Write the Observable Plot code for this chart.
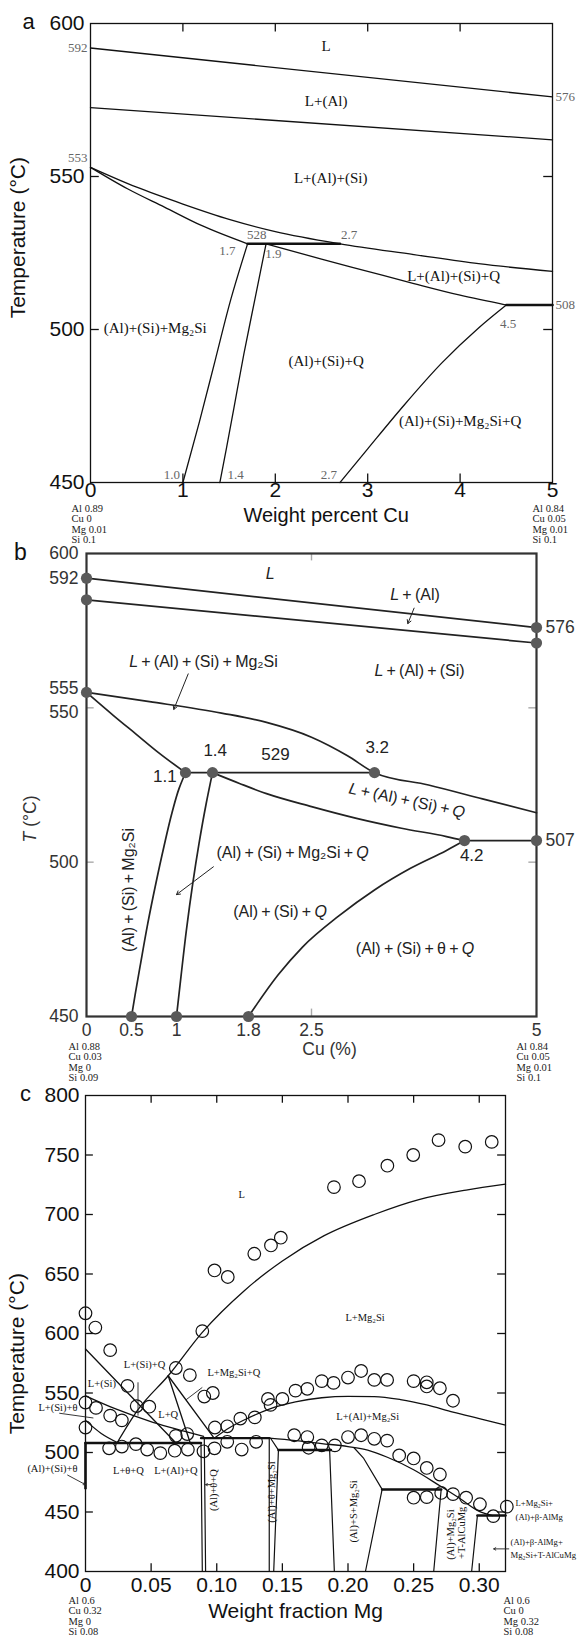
<!DOCTYPE html>
<html>
<head>
<meta charset="utf-8">
<script src="https://cdn.jsdelivr.net/npm/d3@7"></script>
<script src="https://cdn.jsdelivr.net/npm/@observablehq/plot@0.6"></script>
<style>
  body { margin: 0; background: #fff; }
  #wrap { width: 579px; }
  svg { display: block; overflow: visible; }
</style>
</head>
<body>
<div id="wrap"></div>
<script>
// ================= Panel a: temperature vs weight percent Cu =================
const aLiquidus = [[0, 592], [5, 576]];
const aAlSi = [[0, 572.5], [5, 562]];
const aUpper = [[0, 553], [0.5, 546.5], [1.0, 541], [1.5, 536], [2.0, 532], [2.7, 528], [3.5, 524.5], [4.2, 521.5], [5, 519]];
const aLower = [[0, 553], [0.4, 546], [0.8, 540], [1.2, 534], [1.7, 528]];
const aIso528 = [[1.7, 528], [2.7, 528]];
const aQline = [[1.9, 528], [2.5, 523], [3.0, 519], [3.5, 515], [4.0, 511.2], [4.5, 508]];
const aIso508 = [[4.5, 508], [5, 508]];
const aMg2Si1 = [[1.7, 528], [1.52, 510], [1.35, 490], [1.18, 470], [1.0, 450]];
const aMg2Si2 = [[1.9, 528], [1.78, 510], [1.66, 492], [1.55, 474], [1.47, 461], [1.4, 450]];
const aTheta = [[2.7, 450], [3.0, 461], [3.4, 475.5], [3.8, 489], [4.2, 500.5], [4.5, 508]];
const aTickLabelsX = [0, 1, 2, 3, 4, 5];
const aTickLabelsY = [450, 500, 550, 600];
const aPhase = [
  {x: 2.55, y: 592.5, t: "L"},
  {x: 2.55, y: 574.5, t: "L+(Al)"},
  {x: 2.6, y: 549.5, t: "L+(Al)+(Si)"},
  {x: 3.93, y: 517.3, t: "L+(Al)+(Si)+Q"},
  {x: 0.7, y: 500.5, t: "(Al)+(Si)+Mg\u2082Si"},
  {x: 2.55, y: 489.5, t: "(Al)+(Si)+Q"},
  {x: 4.0, y: 470, t: "(Al)+(Si)+Mg\u2082Si+Q"}
];
const aPointLeft = [{x: 0, y: 592, t: "592"}, {x: 0, y: 556, t: "553"}];
const aPointRight = [{x: 5, y: 576, t: "576"}, {x: 5, y: 508, t: "508"}];
const aPointMid = [
  {x: 1.8, y: 530.8, t: "528"},
  {x: 2.8, y: 530.8, t: "2.7"},
  {x: 1.48, y: 525.8, t: "1.7"},
  {x: 1.98, y: 524.6, t: "1.9"},
  {x: 4.52, y: 502, t: "4.5"},
  {x: 0.88, y: 452.4, t: "1.0"},
  {x: 1.57, y: 452.4, t: "1.4"},
  {x: 2.58, y: 452.4, t: "2.7"}
];
const aLeftComp = ["Al 0.89", "Cu 0", "Mg 0.01", "Si 0.1"];
const aRightComp = ["Al 0.84", "Cu 0.05", "Mg 0.01", "Si 0.1"];

// ================= Panel b: T vs Cu (%) =================
const bLiquidus = [[0, 592], [5, 576]];
const bAlSi = [[0, 585], [5, 571]];
const bUpper = [[0, 555], [0.7, 552], [1.5, 548.3], [2.0, 545.3], [2.5, 540.5], [2.9, 534.5], [3.2, 529], [3.8, 525], [4.4, 520.5], [5, 516]];
const bLower = [[0, 555], [0.3, 547.5], [0.55, 541.5], [0.8, 535.5], [1.1, 529]];
const bIso529 = [[1.1, 529], [3.2, 529]];
const bQline = [[1.4, 529], [1.7, 525.5], [2.0, 522.2], [2.5, 518], [3.0, 514.2], [3.5, 511], [4.0, 508.3], [4.2, 507]];
const bIso507 = [[4.2, 507], [5, 507]];
const bMg2Si1 = [[1.1, 529], [1.03, 524], [0.95, 516], [0.86, 505], [0.77, 493], [0.68, 480], [0.6, 467], [0.54, 457], [0.5, 450]];
const bMg2Si2 = [[1.4, 529], [1.33, 519], [1.25, 506], [1.18, 493], [1.11, 478], [1.05, 463], [1.0, 450]];
const bTheta = [[1.8, 450], [2.13, 463.5], [2.4, 472.5], [2.8, 482.5], [3.2, 491], [3.6, 498], [4.0, 503.8], [4.2, 507]];
const bDots = [[0, 592], [0, 585], [5, 576], [5, 571], [0, 555], [1.1, 529], [1.4, 529], [3.2, 529], [4.2, 507], [5, 507], [0.5, 450], [1, 450], [1.8, 450]];
const bTickLabelsX = [0, 0.5, 1, 1.8, 2.5, 5];
const bTickLabelsY = [450, 500, 592, 600];
const bTickLabelUpper = [555];
const bTickLabelLower = [550];
const bPhase = [
  {x: 2.04, y: 593.5, t: "L", r: 0},
  {x: 3.65, y: 586.5, t: "L+(Al)", r: 0},
  {x: 3.7, y: 562, t: "L+(Al)+(Si)", r: 0},
  {x: 1.3, y: 565, t: "L+(Al)+(Si)+Mg\u2082Si", r: 0},
  {x: 3.56, y: 520, t: "L+(Al)+(Si)+Q", r: 12},
  {x: 2.29, y: 503, t: "(Al)+(Si)+Mg\u2082Si+Q", r: 0},
  {x: 0.47, y: 491, t: "(Al)+(Si)+Mg\u2082Si", r: -90},
  {x: 2.15, y: 484, t: "(Al)+(Si)+Q", r: 0},
  {x: 3.65, y: 472, t: "(Al)+(Si)+\u03b8+Q", r: 0}
];
const bArrows = [
  {x1: 3.64, y1: 582.3, x2: 3.57, y2: 577.3},
  {x1: 1.13, y1: 561, x2: 0.97, y2: 549.5},
  {x1: 1.41, y1: 498.5, x2: 1.0, y2: 489.5}
];
const bPoint = [
  {x: 0.87, y: 527.8, t: "1.1"},
  {x: 1.43, y: 536, t: "1.4"},
  {x: 2.1, y: 535, t: "529"},
  {x: 3.23, y: 537, t: "3.2"},
  {x: 4.28, y: 502, t: "4.2"}
];
const bRightLabels = [576, 507];
const bLeftComp = ["Al 0.88", "Cu 0.03", "Mg 0", "Si 0.09"];
const bRightComp = ["Al 0.84", "Cu 0.05", "Mg 0.01", "Si 0.1"];

// ================= Panel c: temperature vs weight fraction Mg =================
const cLiquidus = [[0.024, 508], [0.04, 536], [0.063, 564.5], [0.089, 601], [0.121, 636], [0.15, 661], [0.1815, 682], [0.22, 700], [0.254, 712.5], [0.29, 720.5], [0.32, 725.5]];
const cDome = [[0.098, 512], [0.11, 521], [0.125, 529.5], [0.14, 536.5], [0.16, 542.5], [0.18, 546], [0.2, 547.2], [0.22, 547], [0.24, 544.5], [0.26, 540], [0.28, 534], [0.3, 528.5], [0.32, 523]];
const cSolvus = [[0.14, 512], [0.16, 510], [0.18, 507.5], [0.2, 505], [0.215, 502], [0.23, 496], [0.25, 485.5], [0.27, 472], [0.285, 461.5], [0.3, 450.5], [0.31, 447]];
const cSiLiq = [[0, 587], [0.068, 509]];
const cSiTheta = [[0, 547.6], [0.0225, 536.8], [0.0514, 525.4], [0.075, 518], [0.09, 513.5]];
const cSiTheta2 = [[0, 527], [0.012, 516], [0.025, 508]];
const cQa = [[0.063, 564.5], [0.0795, 509]];
const cQb = [[0.063, 564.5], [0.098, 512]];
const cIso508 = [[0, 508], [0.088, 508]];
const cIso512 = [[0.088, 512], [0.14, 512]];
const cIso502 = [[0.147, 502], [0.187, 502]];
const cIso469 = [[0.226, 469], [0.271, 469]];
const cIso447 = [[0.2986, 447], [0.32, 447]];
const cBounds = [
  [[0.088, 508], [0.089, 400]],
  [[0.0905, 512], [0.0915, 400]],
  [[0.14, 512], [0.14, 400]],
  [[0.141, 512], [0.147, 502], [0.1434, 400]],
  [[0.186, 502], [0.1896, 400]],
  [[0.2046, 504], [0.212, 495], [0.226, 469], [0.2133, 400]],
  [[0.271, 469], [0.2653, 400]],
  [[0.2986, 447], [0.2942, 400]]
];
const cLeftEdge = [[0, 508], [0, 470]];
const cExpX = [0, 0.0075, 0.0188, 0.032, 0, 0.008, 0.0188, 0.0277, 0, 0.018, 0.0277, 0.0384, 0.039, 0.0486, 0.047, 0.057, 0.068, 0.0688, 0.0688, 0.0775, 0.078, 0.0795, 0.0899, 0.0905, 0.097, 0.089, 0.0986, 0.0983, 0.108, 0.108, 0.119, 0.118, 0.129, 0.13, 0.139, 0.141, 0.15, 0.159, 0.16, 0.169, 0.169, 0.17, 0.18, 0.18, 0.189, 0.19, 0.2, 0.2, 0.21, 0.21, 0.22, 0.22, 0.2298, 0.2298, 0.239, 0.25, 0.25, 0.26, 0.26, 0.26, 0.27, 0.27, 0.28, 0.25, 0.26, 0.271, 0.28, 0.29, 0.3005, 0.3107, 0.321, 0.0983, 0.1084, 0.1286, 0.1413, 0.1488, 0.1893, 0.2084, 0.23, 0.2497, 0.269, 0.2893, 0.3095];
const cExpT = [617, 605, 586, 556, 542, 537.5, 531, 527, 521, 503.5, 505, 507, 539, 538.5, 502.5, 499.5, 501.5, 571, 514, 515.5, 502.5, 565, 501, 547, 550, 602, 521, 503.5, 522, 509, 502.5, 528.5, 529.5, 509, 545, 540, 545, 514.5, 552, 553.5, 513, 504, 506, 560, 558.5, 506, 513, 563, 568.5, 514.5, 561, 511.5, 561, 510, 497.5, 560, 495, 559, 555.5, 487, 554, 481.5, 543.5, 462, 462.5, 466, 465, 462, 456.5, 446.5, 454.5, 653, 647.5, 667, 674, 680.5, 723, 728, 741, 750, 762.5, 757, 761];
const cTickLabelsX = [0, 0.05, 0.1, 0.15, 0.2, 0.25, 0.3];
const cTickTextX = ["0", "0.05", "0.10", "0.15", "0.20", "0.25", "0.30"];
const cTickLabelsY = [400, 450, 500, 550, 600, 650, 700, 750, 800];
const cPhase = [
  {x: 0.119, y: 716.5, t: "L"},
  {x: 0.213, y: 613, t: "L+Mg\u2082Si"},
  {x: 0.215, y: 530.3, t: "L+(Al)+Mg\u2082Si"},
  {x: 0.045, y: 573.6, t: "L+(Si)+Q"},
  {x: 0.0125, y: 558, t: "L+(Si)"},
  {x: 0.113, y: 567, t: "L+Mg\u2082Si+Q"},
  {x: 0.063, y: 532, t: "L+Q"},
  {x: 0.0327, y: 484.7, t: "L+\u03b8+Q"},
  {x: 0.0688, y: 484.7, t: "L+(Al)+Q"}
];
const cPhaseLeft = [
  {x: 0, y: 537.5, t: "L+(Si)+\u03b8"},
  {x: 0, y: 486.3, t: "(Al)+(Si)+\u03b8"}
];
const cPhaseVertical = [
  {x: 0.0977, y: 468.4, t: "(Al)+\u03b8+Q"},
  {x: 0.1416, y: 466.8, t: "(Al)+\u03b8+Mg\u2082Si"},
  {x: 0.2046, y: 450.5, t: "(Al)+S+Mg\u2082Si"},
  {x: 0.278, y: 431, t: "(Al)+Mg\u2082Si"},
  {x: 0.2866, y: 432.5, t: "+T-AlCuMg"}
];
const cPhaseRightUpper = [
  {x: 0.32, y: 457, t: "L+Mg\u2082Si+"},
  {x: 0.32, y: 446, t: "(Al)+\u03b2-AlMg"}
];
const cPhaseRightLower = [
  {x: 0.32, y: 425, t: "(Al)+\u03b2-AlMg+"},
  {x: 0.32, y: 414, t: "Mg\u2082Si+T-AlCuMg"}
];
const cPointers = [
  {x1: -0.02, y1: 533, x2: 0.006, y2: 529},
  {x1: 0.04, y1: 559, x2: 0.04, y2: 531},
  {x1: 0.089, y1: 554.7, x2: 0.0766, y2: 544.3}
];
const cArrows = [
  {x1: -0.0136, y1: 481, x2: 0, y2: 473},
  {x1: 0.0962, y1: 473, x2: 0.0915, y2: 473},
  {x1: 0.3225, y1: 419, x2: 0.311, y2: 419}
];
const cLeftComp = ["Al 0.6", "Cu 0.32", "Mg 0", "Si 0.08"];
const cRightComp = ["Al 0.6", "Cu 0", "Mg 0.32", "Si 0.08"];

// ================= drawing =================
const serif = "'Liberation Serif', 'DejaVu Serif', serif";
const sans = "'Liberation Sans', Arial, sans-serif";
const rows = (pts) => pts.map(([x, y]) => ({x, y}));
const curve = (pts, o = {}) => Plot.line(rows(pts), {x: "x", y: "y", stroke: "#111", strokeWidth: 1.3, curve: "monotone-x", ...o});
const poly = (pts, o = {}) => Plot.line(rows(pts), {x: "x", y: "y", stroke: "#111", strokeWidth: 1.3, curve: "linear", ...o});
const block = (lines, x, y, dx, dy) => Plot.text([{x, y, t: lines.join("\n")}], {
  x: "x", y: "y", text: "t", dx, dy, textAnchor: "start", lineAnchor: "top", lineHeight: 1.0,
  fontFamily: serif, fontSize: 10.5, fill: "#222"
});
const single = (x, y, t, o = {}) => Plot.text([{x, y, t}], {x: "x", y: "y", text: "t", ...o});
const spaced = (s) => s.replace(/\+/g, "\u2009+\u2009");

// italic L, Q and T inside the panel b labels
function italicize(svg, strings) {
  const set = new Set(strings);
  svg.querySelectorAll("text").forEach((el) => {
    if (!set.has(el.textContent) || el.querySelector("tspan")) return;
    const s = el.textContent;
    el.textContent = "";
    for (const part of s.split(/(L|Q|T)/)) {
      if (!part) continue;
      const ts = document.createElementNS("http://www.w3.org/2000/svg", "tspan");
      ts.textContent = part;
      if (part === "L" || part === "Q" || part === "T") ts.setAttribute("font-style", "italic");
      el.appendChild(ts);
    }
  });
}

const wrap = document.getElementById("wrap");

// ---------- panel a ----------
const chartA = Plot.plot({
  width: 579, height: 540,
  marginTop: 23, marginBottom: 58, marginLeft: 90, marginRight: 27,
  x: {domain: [0, 5], axis: null},
  y: {domain: [450, 600], axis: null},
  marks: [
    Plot.frame({stroke: "#111", strokeWidth: 1.3}),
    Plot.ruleX([1, 2, 3, 4], {y1: 600, y2: 597.2, stroke: "#111", strokeWidth: 1.3}),
    Plot.ruleX([1, 2, 3, 4], {y1: 450, y2: 452.8, stroke: "#111", strokeWidth: 1.3}),
    Plot.ruleY([500, 550], {x1: 0, x2: 0.095, stroke: "#111", strokeWidth: 1.3}),
    Plot.ruleY([500, 550], {x1: 4.905, x2: 5, stroke: "#111", strokeWidth: 1.3}),
    Plot.text(aTickLabelsY, {x: 0, y: (d) => d, text: (d) => String(d), dx: -6, textAnchor: "end", fontFamily: sans, fontSize: 21, fill: "#111"}),
    Plot.text(aTickLabelsX, {x: (d) => d, y: 450, text: (d) => String(d), dy: 8, fontFamily: sans, fontSize: 21, fill: "#111"}),
    single(0, 600, "a", {dx: -62, dy: -2, fontFamily: sans, fontSize: 22, fill: "#111"}),
    single(0, 530, "Temperature (\u00b0C)", {dx: -72, rotate: -90, fontFamily: sans, fontSize: 21, fill: "#111"}),
    single(2.55, 450, "Weight percent Cu", {dy: 33, fontFamily: sans, fontSize: 20, fill: "#111"}),
    curve(aLiquidus), curve(aAlSi), curve(aUpper), curve(aLower),
    poly(aIso528, {strokeWidth: 2.6}), curve(aQline), poly(aIso508, {strokeWidth: 2.6}),
    curve(aMg2Si1, {curve: "monotone-y"}), curve(aMg2Si2, {curve: "monotone-y"}), curve(aTheta),
    Plot.text(aPhase, {x: "x", y: "y", text: "t", fontFamily: serif, fontSize: 15, fill: "#111"}),
    Plot.text(aPointLeft, {x: "x", y: "y", text: "t", textAnchor: "end", dx: -3, fontFamily: serif, fontSize: 13, fill: "#666"}),
    Plot.text(aPointRight, {x: "x", y: "y", text: "t", textAnchor: "start", dx: 3, fontFamily: serif, fontSize: 13, fill: "#666"}),
    Plot.text(aPointMid, {x: "x", y: "y", text: "t", fontFamily: serif, fontSize: 13, fill: "#666"}),
    block(aLeftComp, 0, 450, -19, 22),
    block(aRightComp, 5, 450, -20, 22)
  ]
});
wrap.appendChild(chartA);

// ---------- panel b ----------
const chartB = Plot.plot({
  width: 579, height: 545,
  marginTop: 13, marginBottom: 69, marginLeft: 86, marginRight: 43,
  x: {domain: [0, 5], axis: null},
  y: {domain: [450, 600], axis: null},
  marks: [
    Plot.ruleX([2.5], {y1: 600, y2: 597.6, stroke: "#aaa", strokeWidth: 1.4}),
    Plot.ruleX([2.5], {y1: 450, y2: 452.4, stroke: "#aaa", strokeWidth: 1.4}),
    Plot.ruleY([500, 550], {x1: 0, x2: 0.085, stroke: "#aaa", strokeWidth: 1.4}),
    Plot.ruleY([500, 550], {x1: 4.915, x2: 5, stroke: "#aaa", strokeWidth: 1.4}),
    Plot.frame({stroke: "#333", strokeWidth: 2.2}),
    Plot.text(bTickLabelsY, {x: 0, y: (d) => d, text: (d) => String(d), dx: -8, textAnchor: "end", fontFamily: sans, fontSize: 17.5, fill: "#333"}),
    Plot.text(bTickLabelUpper, {x: 0, y: (d) => d, text: (d) => String(d), dx: -8, dy: -4, textAnchor: "end", fontFamily: sans, fontSize: 17.5, fill: "#333"}),
    Plot.text(bTickLabelLower, {x: 0, y: (d) => d, text: (d) => String(d), dx: -8, dy: 5, textAnchor: "end", fontFamily: sans, fontSize: 17.5, fill: "#333"}),
    Plot.text(bRightLabels, {x: 5, y: (d) => d, text: (d) => String(d), dx: 9, textAnchor: "start", fontFamily: sans, fontSize: 17.5, fill: "#333"}),
    Plot.text(bTickLabelsX, {x: (d) => d, y: 450, text: (d) => String(d), dy: 14, fontFamily: sans, fontSize: 17.5, fill: "#333"}),
    single(0, 600, "b", {dx: -66, dy: -1, fontFamily: sans, fontSize: 23, fill: "#111"}),
    single(0, 514, "T (\u00b0C)", {dx: -56, rotate: -90, fontFamily: sans, fontSize: 17.5, fill: "#333"}),
    single(2.7, 450, "Cu (%)", {dy: 33, fontFamily: sans, fontSize: 17.5, fill: "#333"}),
    curve(bLiquidus, {strokeWidth: 1.7, stroke: "#222"}), curve(bAlSi, {strokeWidth: 1.7, stroke: "#222"}),
    curve(bUpper, {strokeWidth: 1.7, stroke: "#222"}), curve(bLower, {strokeWidth: 1.7, stroke: "#222"}),
    poly(bIso529, {strokeWidth: 1.7, stroke: "#222"}), curve(bQline, {strokeWidth: 1.7, stroke: "#222"}), poly(bIso507, {strokeWidth: 1.7, stroke: "#222"}),
    curve(bMg2Si1, {curve: "monotone-y", strokeWidth: 1.7, stroke: "#222"}), curve(bMg2Si2, {curve: "monotone-y", strokeWidth: 1.7, stroke: "#222"}),
    curve(bTheta, {strokeWidth: 1.7, stroke: "#222"}),
    Plot.arrow(bArrows, {x1: "x1", y1: "y1", x2: "x2", y2: "y2", stroke: "#222", strokeWidth: 1, headLength: 6}),
    Plot.dot(rows(bDots), {x: "x", y: "y", r: 5.6, fill: "#5a5a5a", stroke: "none"}),
    Plot.text(bPhase.filter((d) => d.r === 0), {x: "x", y: "y", text: (d) => spaced(d.t), fontFamily: sans, fontSize: 16, fill: "#222"}),
    Plot.text(bPhase.filter((d) => d.r === 12), {x: "x", y: "y", text: (d) => spaced(d.t), rotate: 12, fontFamily: sans, fontSize: 16, fill: "#222"}),
    Plot.text(bPhase.filter((d) => d.r === -90), {x: "x", y: "y", text: (d) => spaced(d.t), rotate: -90, fontFamily: sans, fontSize: 16, fill: "#222"}),
    Plot.text(bPoint, {x: "x", y: "y", text: "t", fontFamily: sans, fontSize: 17, fill: "#222"}),
    block(bLeftComp, 0, 450, -18, 26),
    block(bRightComp, 5, 450, -20, 26)
  ]
});
italicize(chartB, [...bPhase.map((d) => spaced(d.t)), "T (\u00b0C)"]);
wrap.appendChild(chartB);

// ---------- panel c ----------
const chartC = Plot.plot({
  width: 579, height: 556,
  marginTop: 10, marginBottom: 70, marginLeft: 85, marginRight: 74,
  x: {domain: [0, 0.32], axis: null},
  y: {domain: [400, 800], axis: null},
  marks: [
    Plot.frame({stroke: "#111", strokeWidth: 1.3}),
    Plot.ruleX(cTickLabelsX.slice(1), {y1: 800, y2: 793.5, stroke: "#111", strokeWidth: 1.3}),
    Plot.ruleX(cTickLabelsX.slice(1), {y1: 400, y2: 406.5, stroke: "#111", strokeWidth: 1.3}),
    Plot.ruleY(cTickLabelsY.slice(1, -1), {x1: 0, x2: 0.006, stroke: "#111", strokeWidth: 1.3}),
    Plot.ruleY(cTickLabelsY.slice(1, -1), {x1: 0.314, x2: 0.32, stroke: "#111", strokeWidth: 1.3}),
    Plot.text(cTickLabelsY, {x: 0, y: (d) => d, text: (d) => String(d), dx: -6, textAnchor: "end", fontFamily: sans, fontSize: 21, fill: "#111"}),
    Plot.text(cTickLabelsX, {x: (d) => d, y: 400, text: (d, i) => cTickTextX[i], dy: 14, fontFamily: sans, fontSize: 21, fill: "#111"}),
    single(0, 800, "c", {dx: -60, dy: -2, fontFamily: sans, fontSize: 22, fill: "#111"}),
    single(0, 583, "Temperature (\u00b0C)", {dx: -68, rotate: -90, fontFamily: sans, fontSize: 21, fill: "#111"}),
    single(0.16, 400, "Weight fraction Mg", {dy: 40, fontFamily: sans, fontSize: 21, fill: "#111"}),
    curve(cLiquidus), curve(cDome), curve(cSolvus), poly(cSiLiq), curve(cSiTheta), curve(cSiTheta2),
    poly(cQa), poly(cQb),
    poly(cIso508, {strokeWidth: 2.5}), poly(cIso512, {strokeWidth: 2.3}), poly(cIso502, {strokeWidth: 2.5}),
    poly(cIso469, {strokeWidth: 2.5}), poly(cIso447, {strokeWidth: 2.5}), poly(cLeftEdge, {strokeWidth: 2.6}),
    ...cBounds.map((b) => poly(b, {strokeWidth: 1.2})),
    Plot.dot(cExpX.map((x, i) => ({x, y: cExpT[i]})), {x: "x", y: "y", r: 6.3, stroke: "#111", strokeWidth: 1.2, fill: "none"}),
    Plot.link(cPointers, {x1: "x1", y1: "y1", x2: "x2", y2: "y2", stroke: "#222", strokeWidth: 0.9}),
    Plot.arrow(cArrows, {x1: "x1", y1: "y1", x2: "x2", y2: "y2", stroke: "#222", strokeWidth: 0.9, headLength: 4}),
    Plot.text(cPhase, {x: "x", y: "y", text: "t", fontFamily: serif, fontSize: 10.5, fill: "#111"}),
    Plot.text(cPhaseLeft, {x: "x", y: "y", text: "t", dx: -8, textAnchor: "end", fontFamily: serif, fontSize: 10.5, fill: "#111"}),
    Plot.text(cPhaseVertical, {x: "x", y: "y", text: "t", rotate: -90, fontFamily: serif, fontSize: 10.5, fill: "#111"}),
    Plot.text(cPhaseRightUpper, {x: "x", y: "y", text: "t", dx: 10, textAnchor: "start", fontFamily: serif, fontSize: 8.7, fill: "#111"}),
    Plot.text(cPhaseRightLower, {x: "x", y: "y", text: "t", dx: 5, textAnchor: "start", fontFamily: serif, fontSize: 8.7, fill: "#111"}),
    block(cLeftComp, 0, 400, -17, 25),
    block(cRightComp, 0.32, 400, -2, 25)
  ]
});
wrap.appendChild(chartC);
</script>
</body>
</html>
